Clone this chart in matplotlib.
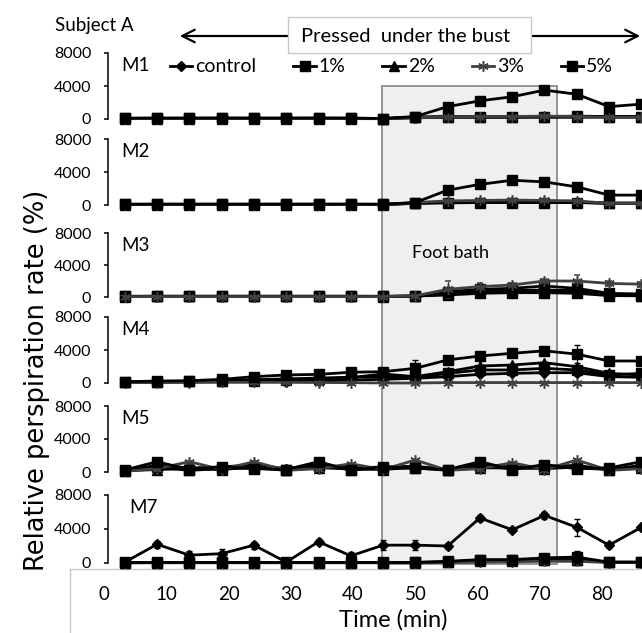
import matplotlib
matplotlib.use("Agg")
import matplotlib.pyplot as plt
from matplotlib.patches import Rectangle, FancyArrowPatch

plt.rcParams['font.family'] = ['Lato', 'DejaVu Sans']

# sampling times (min)
minutes = [5, 10, 15, 20, 25, 30, 35, 40, 45, 50, 55, 60, 65, 70, 75, 80, 85]
groups = ['control', '1%', '2%', '3%', '5%']
x_ticks = [0, 10, 20, 30, 40, 50, 60, 70, 80]
foot_bath = (44.8, 72.0)

# M1
m1_control = [60, 70, 60, 70, 60, 70, 60, 70, 50, 150, 200, 200, 200, 200, 200, 250, 250]
m1_1pct = [80, 90, 90, 100, 90, 90, 100, 90, 60, 250, 300, 300, 300, 300, 350, 300, 300]
m1_2pct = [50, 60, 60, 60, 60, 60, 60, 60, 40, 200, 250, 250, 250, 300, 300, 250, 250]
m1_3pct = [40, 50, 50, 50, 50, 50, 50, 50, 30, 150, 250, 300, 300, 350, 300, 200, 200]
m1_5pct = [100, 120, 120, 130, 120, 120, 130, 120, 60, 300, 1500, 2200, 2700, 3500, 3000, 1500, 1800]

# M2
m2_control = [60, 70, 60, 70, 60, 70, 60, 70, 60, 200, 250, 300, 300, 300, 300, 200, 200]
m2_1pct = [80, 90, 90, 90, 90, 90, 90, 90, 80, 250, 300, 300, 300, 300, 300, 250, 250]
m2_2pct = [50, 60, 60, 60, 60, 60, 60, 60, 50, 200, 350, 400, 400, 400, 350, 200, 200]
m2_3pct = [40, 50, 50, 50, 60, 70, 60, 50, 40, 300, 500, 550, 600, 550, 500, 200, 200]
m2_5pct = [100, 110, 110, 110, 110, 110, 110, 110, 100, 300, 1800, 2500, 3000, 2800, 2200, 1200, 1200]

# M3
m3_control = [50, 60, 60, 60, 60, 60, 60, 60, 60, 100, 350, 600, 700, 800, 700, 300, 250]
m3_1pct = [80, 90, 90, 90, 90, 90, 90, 90, 80, 120, 250, 460, 540, 540, 460, 170, 150]
m3_2pct = [60, 70, 70, 70, 70, 70, 70, 70, 60, 110, 460, 670, 800, 875, 800, 250, 170]
m3_3pct = [40, 50, 50, 50, 50, 50, 50, 50, 50, 150, 960, 1300, 1500, 2000, 2000, 1700, 1600]
m3_3pct_err = [50, 50, 50, 50, 50, 50, 50, 50, 50, 100, 1100, 400, 300, 300, 700, 300, 300]
m3_5pct = [90, 100, 100, 100, 100, 100, 100, 100, 90, 130, 670, 960, 1080, 1375, 1080, 460, 375]

# M4
m4_control = [80, 100, 150, 200, 200, 160, 240, 360, 440, 570, 770, 1050, 1170, 1250, 1250, 770, 690]
m4_1pct = [100, 150, 200, 300, 400, 500, 600, 700, 770, 650, 1170, 1580, 1580, 1780, 1580, 970, 1170]
m4_2pct = [100, 150, 200, 300, 280, 360, 490, 650, 1090, 770, 1370, 2060, 2180, 2460, 1980, 1170, 970]
m4_3pct = [50, 60, 60, 80, 80, 80, 60, 40, 0, 0, 50, 50, 50, 50, 50, 50, 50]
m4_5pct = [150, 240, 280, 440, 770, 970, 1050, 1300, 1370, 1780, 2800, 3270, 3600, 3900, 3500, 2670, 2670]
m4_5pct_err = [100, 100, 100, 150, 200, 200, 200, 200, 300, 1000, 300, 300, 300, 300, 1100, 300, 300]

# M5
m5_control = [200, 800, 500, 600, 900, 400, 900, 500, 600, 700, 300, 900, 600, 700, 800, 300, 800]
m5_1pct = [100, 600, 200, 400, 500, 200, 700, 300, 400, 500, 200, 700, 400, 600, 500, 300, 700]
m5_2pct = [150, 300, 400, 300, 600, 300, 500, 400, 300, 600, 300, 500, 500, 400, 600, 300, 500]
m5_3pct = [100, 400, 1250, 300, 1250, 200, 400, 1000, 300, 1450, 200, 400, 1130, 300, 1450, 200, 400]
m5_5pct = [250, 1250, 300, 650, 400, 300, 1250, 200, 650, 440, 300, 1250, 300, 900, 400, 500, 1250]

# M7
m7_control = [100, 2200, 920, 1100, 2100, 100, 2500, 840, 2100, 2100, 2000, 5300, 3900, 5600, 4200, 2100, 4200]
m7_control_err = [100, 400, 500, 500, 400, 100, 300, 500, 600, 600, 400, 300, 200, 400, 1000, 300, 300]
m7_1pct = [40, 50, 50, 50, 50, 50, 50, 50, 50, 60, 150, 300, 300, 400, 400, 100, 100]
m7_2pct = [30, 40, 40, 40, 40, 40, 40, 40, 40, 50, 100, 200, 250, 300, 300, 80, 80]
m7_3pct = [20, 30, 30, 30, 30, 30, 30, 30, 30, 30, 60, 100, 150, 200, 200, 50, 50]
m7_5pct = [60, 60, 60, 60, 60, 60, 60, 60, 60, 70, 200, 400, 400, 600, 700, 100, 100]
m7_5pct_err = [50, 50, 50, 50, 50, 50, 50, 50, 50, 50, 100, 100, 100, 100, 700, 100, 100]

W, H = 642, 633


def fx(px):
    return px / W


def fy(py):
    return 1 - py / H


# name, pixel row of 8000, pixel row of 0, series, error bars
panels = [
    ('M1', 53, 119, [m1_control, m1_1pct, m1_2pct, m1_3pct, m1_5pct], [None] * 5),
    ('M2', 139, 205, [m2_control, m2_1pct, m2_2pct, m2_3pct, m2_5pct], [None] * 5),
    ('M3', 233, 297, [m3_control, m3_1pct, m3_2pct, m3_3pct, m3_5pct],
     [None, None, None, m3_3pct_err, None]),
    ('M4', 317, 383, [m4_control, m4_1pct, m4_2pct, m4_3pct, m4_5pct],
     [None, None, None, None, m4_5pct_err]),
    ('M5', 406, 472, [m5_control, m5_1pct, m5_2pct, m5_3pct, m5_5pct], [None] * 5),
    ('M7', 495, 563, [m7_control, m7_1pct, m7_2pct, m7_3pct, m7_5pct],
     [m7_control_err, None, None, None, m7_5pct_err]),
]

styles = {
    'control': dict(marker='D', ms=5, color='black'),
    '1%': dict(marker='s', ms=7.5, color='black'),
    '2%': dict(marker='^', ms=7, color='black'),
    '3%': dict(marker=(6, 2, 0), ms=7.5, color='#404040', mew=1.1),
    '5%': dict(marker='s', ms=7.5, color='black'),
}

x_left, x_right = 108, 642
xlim = (2.4, 85.1)

fig = plt.figure(figsize=(W / 100, H / 100), dpi=100)

# shaded foot-bath period behind all panels
bg = fig.add_axes([fx(x_left), 0, fx(x_right) - fx(x_left), 1], zorder=0)
bg.set_xlim(*xlim)
bg.set_ylim(H, 0)
bg.axis('off')
bg.add_patch(Rectangle((foot_bath[0], 86), foot_bath[1] - foot_bath[0], 478,
                       facecolor='#efefef', edgecolor='#8c8c8c', lw=1.3))
fig.text(fx(451), fy(253), 'Foot bath', ha='center', va='center', fontsize=13)

legend_lines = None
for name, top, zero, series, errs in panels:
    ax = fig.add_axes([fx(x_left), fy(zero), fx(x_right) - fx(x_left), (zero - top) / H],
                      zorder=2)
    ax.patch.set_alpha(0)
    lines = []
    for g, vals, err in zip(groups, series, errs):
        st = styles[g]
        if err is not None:
            cont = ax.errorbar(minutes, vals, yerr=err, color=st['color'], lw=2.0,
                               marker=st['marker'], ms=st['ms'], mew=st.get('mew', 1),
                               ecolor=st['color'], elinewidth=0.9, capsize=2,
                               clip_on=False)
            ln = cont.lines[0]
            for art in cont.lines[1] + cont.lines[2]:
                art.set_clip_on(False)
        else:
            ln, = ax.plot(minutes, vals, color=st['color'], lw=2.0,
                          marker=st['marker'], ms=st['ms'], mew=st.get('mew', 1),
                          clip_on=False)
        lines.append(ln)
    if legend_lines is None:
        legend_lines = lines
    ax.set_xlim(*xlim)
    ax.set_ylim(0, 8000)
    ax.set_yticks([0, 4000, 8000])
    ax.set_xticks([])
    for s in ['top', 'right', 'bottom']:
        ax.spines[s].set_visible(False)
    ax.spines['left'].set_linewidth(1.1)
    ax.tick_params(axis='y', direction='out', length=3, width=1.1, pad=9, labelsize=11.5)
    dx = 0.04 if name == 'M7' else 0.024
    ax.text(dx, 6500, name, transform=ax.get_yaxis_transform(), fontsize=13.5,
            ha='left', va='center')

# shared time axis in its own box
bx = fig.add_axes([fx(70), 0, 1 - fx(70), (H - 569) / H], zorder=1)
bx.set_xlim(-5.46, 86.4)
bx.set_ylim(0, 1)
bx.set_yticks([])
bx.set_xticks(x_ticks)
bx.tick_params(axis='x', length=0, pad=-34, labelsize=13.5)
for s in ['right', 'bottom']:
    bx.spines[s].set_visible(False)
for s in ['top', 'left']:
    bx.spines[s].set_color('#c8c8c8')
    bx.spines[s].set_linewidth(1.0)
fig.text(fx(393), fy(620), 'Time (min)', ha='center', va='center', fontsize=17)

fig.text(fx(37), fy(380), 'Relative perspiration rate (%)', rotation=90,
         ha='center', va='center', fontsize=18.5, family='DejaVu Sans')
fig.text(fx(55), fy(26), 'Subject A', ha='left', va='center', fontsize=13.5)

# "pressed under the bust" span arrow with label box
fig.add_artist(FancyArrowPatch((fx(177), fy(36)), (fx(643), fy(36)),
                               transform=fig.transFigure,
                               arrowstyle='<->,head_length=0.6,head_width=0.3',
                               mutation_scale=15, lw=1.6, color='black'))
fig.add_artist(Rectangle((fx(288), fy(53)), fx(531) - fx(288), (53 - 17) / H,
                         transform=fig.transFigure, facecolor='white',
                         edgecolor='#c8c8c8', lw=1.0))
fig.text(fx(406), fy(37), 'Pressed  under the bust', ha='center', va='center',
         fontsize=14.5)

fig.legend(legend_lines, groups, loc='center left',
           bbox_to_anchor=(fx(170), fy(67)), ncol=5, frameon=False,
           handlelength=1.15, handletextpad=0.15, columnspacing=1.9,
           fontsize=14, borderpad=0, borderaxespad=0)

fig.savefig('out.png', dpi=100)
